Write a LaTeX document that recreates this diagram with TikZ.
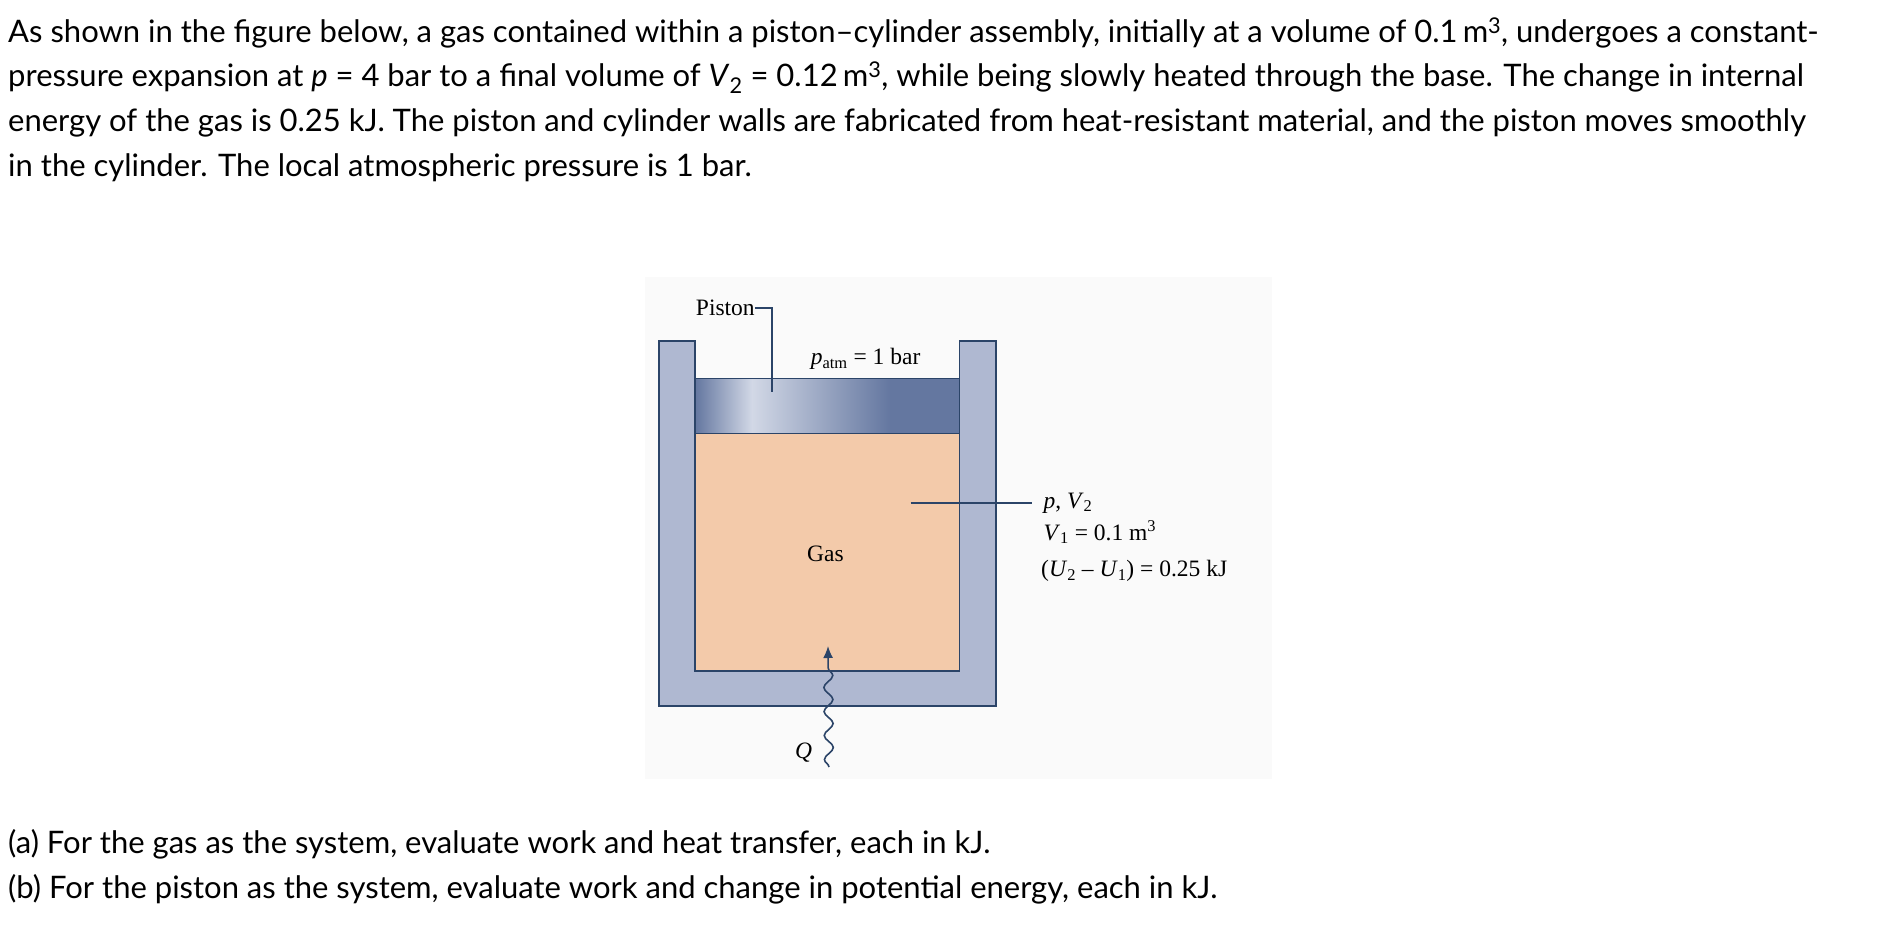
\documentclass[tikz,border=0pt]{standalone}
\usepackage{fontspec}
\setmainfont{Lato}
\newfontfamily\dserif{Liberation Serif}
\usetikzlibrary{decorations.pathmorphing,arrows.meta}
\definecolor{wall}{HTML}{AFB8D1}
\definecolor{edge}{HTML}{2B4468}
\definecolor{gas}{HTML}{F3CAAA}
\definecolor{pdark}{HTML}{6477A0}
\definecolor{plight}{HTML}{D2D8E6}
\begin{document}
\begin{tikzpicture}[x=1pt,y=-1pt,
  para/.style={anchor=west,inner sep=0pt,font=\fontsize{31}{34}\selectfont},
  lab/.style={inner sep=0pt,font=\dserif\fontsize{23.5}{26}\selectfont},
  ln/.style={draw=edge,line width=1.6pt}]
\useasboundingbox (0,0) rectangle (1887,951);
\fill[black!2] (645,277) rectangle (1272,779);
\node[para] (t1) at (8,33) {As shown in the figure below, a gas contained within a piston--cylinder assembly, initially at a volume of 0.1\,m\textsuperscript{3}, undergoes a constant-};
\node[para] (t2) at (8,78) {pressure expansion at \textit{p} = 4 bar to a final volume of \textit{V}\textsubscript{2} = 0.12\,m\textsuperscript{3}, while being slowly heated through the base. The change in internal};
\node[para] (t3) at (8,123) {energy of the gas is 0.25 kJ. The piston and cylinder walls are fabricated from heat-resistant material, and the piston moves smoothly};
\node[para] (t4) at (8,168) {in the cylinder. The local atmospheric pressure is 1 bar.};
\node[para] (q1) at (8,844) {(a) For the gas as the system, evaluate work and heat transfer, each in kJ.};
\node[para] (q2) at (8,889) {(b) For the piston as the system, evaluate work and change in potential energy, each in kJ.};
% cylinder
\filldraw[fill=wall,draw=edge,line width=1.6pt] (658.7,340.9) -- (695.2,340.9) -- (695.2,670.8) -- (959.4,670.8) -- (959.4,340.9) -- (995.9,340.9) -- (995.9,706.2) -- (658.7,706.2) -- cycle;
\filldraw[fill=gas,draw=edge,line width=1.6pt] (695.2,433.4) rectangle (959.4,670.8);
\shade[left color=pdark,right color=plight] (695.2,378.6) rectangle (752,433.4);
\shade[left color=plight,right color=pdark] (752,378.6) rectangle (890,433.4);
\fill[pdark] (889.5,378.6) rectangle (959.4,433.4);
\draw[ln] (695.2,378.6) rectangle (959.4,433.4);
\node[lab,anchor=east] (piston) at (754.9,308) {Piston};
\coordinate (pc) at (771.9,392);
\draw[ln] (piston.east) -| (pc);
\node[lab] (patm) at (865.6,359.2) {\textit{p}\textsubscript{atm} = 1 bar};
\node[lab] (gasl) at (825.5,554) {Gas};
\coordinate (gp) at (910.7,502.8);
\node[lab,anchor=west] (pv) at (1043.4,502.8) {\textit{p}, \textit{V}\textsubscript{2}};
\node[lab,anchor=west] (v1) at (1043.4,532) {\textit{V}\textsubscript{1} = 0.1 m\textsuperscript{3}};
\node[lab,anchor=west] (du) at (1041,571) {(\textit{U}\textsubscript{2} \textendash{} \textit{U}\textsubscript{1}) = 0.25 kJ};
\draw[ln] (gp) -- ([xshift=-11pt]pv.west);
\coordinate (qs) at (829,767);
\coordinate (qt) at (828,646);
\draw[ln,-{Latex[length=12pt,width=10pt]},decorate,decoration={snake,amplitude=4.5pt,segment length=24pt,post length=14pt}] (qs) -- (qt);
\node[lab] (Q) at (803.5,752.4) {\textit{Q}};
\end{tikzpicture}
\end{document}
